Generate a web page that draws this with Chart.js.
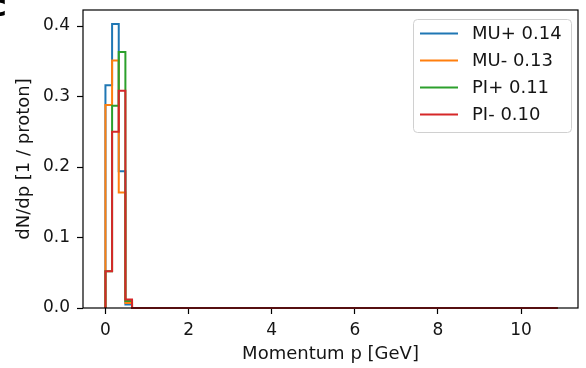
<!DOCTYPE html>
<html>
<head>
<meta charset="utf-8">
<script src="https://cdn.jsdelivr.net/npm/chart.js@4/dist/chart.umd.min.js"></script>
<style>
  html, body { margin: 0; padding: 0; background: #fff; }
  #wrap { width: 586px; height: 368px; }
</style>
</head>
<body>
<div id="wrap"><canvas id="c"></canvas></div>
<script>
// bin edges of the step histogram (GeV); the last segment is empty up to the end
const binEdges = [0, 0.16, 0.32, 0.48, 0.64, 10.88];

// dN/dp per bin
const muPlus  = [0.316, 0.403, 0.194, 0.005, 0];
const muMinus = [0.288, 0.351, 0.164, 0.007, 0];
const piPlus  = [0.052, 0.287, 0.363, 0.010, 0];
const piMinus = [0.052, 0.250, 0.308, 0.012, 0];

const seriesLabels = ['MU+ 0.14', 'MU- 0.13', 'PI+ 0.11', 'PI- 0.10'];
const seriesColors = ['#1f77b4', '#ff7f0e', '#2ca02c', '#d62728'];

const xTicks = [0, 2, 4, 6, 8, 10];
const yTicks = [0, 0.1, 0.2, 0.3, 0.4];

const FONT = "'DejaVu Sans', sans-serif";
const TEXT = '#151515';

function stepPoints(vals) {
    let pts = [{x: binEdges[0], y: 0}];
    vals.forEach((v, i) => pts.push({x: binEdges[i], y: v}));
    pts.push({x: binEdges[binEdges.length - 1], y: 0});
    return pts;
}

const allSeries = [muPlus, muMinus, piPlus, piMinus];

// full box around the axes, legend inside, cut panel letter
const frame = {
    id: 'frame',
    afterDraw(chart) {
        const ctx = chart.ctx, a = chart.chartArea;
        ctx.save();
        ctx.strokeStyle = '#000';
        ctx.lineWidth = 1.2;
        ctx.strokeRect(a.left, a.top, a.right - a.left, a.bottom - a.top);

        // legend
        const bx = 413, by = 19, bw = 158, bh = 113, r = 4;
        ctx.fillStyle = 'rgba(255,255,255,0.8)';
        ctx.strokeStyle = '#d0d0d0';
        ctx.lineWidth = 1;
        ctx.beginPath();
        ctx.roundRect(bx + 0.5, by + 0.5, bw, bh, r);
        ctx.fill();
        ctx.stroke();
        ctx.font = '18px ' + FONT;
        ctx.textBaseline = 'middle';
        seriesLabels.forEach((lab, i) => {
            const y = 33.5 + i * 27;
            ctx.strokeStyle = seriesColors[i];
            ctx.lineWidth = 2;
            ctx.beginPath();
            ctx.moveTo(420, y);
            ctx.lineTo(458, y);
            ctx.stroke();
            ctx.fillStyle = TEXT;
            ctx.fillText(lab, 472, y + 1);
        });

        // panel letter, cut by the page edge
        ctx.fillStyle = '#000';
        ctx.font = 'bold 30px ' + FONT;
        ctx.textBaseline = 'alphabetic';
        ctx.fillText('c', -11, 16);
        ctx.restore();
    }
};

new Chart(document.getElementById('c'), {
    type: 'line',
    data: {
        datasets: allSeries.map((vals, i) => ({
            label: seriesLabels[i],
            data: stepPoints(vals),
            borderColor: seriesColors[i],
            backgroundColor: seriesColors[i],
            borderWidth: 2,
            stepped: true,
            pointRadius: 0,
            fill: false,
            clip: 3,
            order: allSeries.length - i
        }))
    },
    options: {
        responsive: true,
        maintainAspectRatio: false,
        animation: false,
        layout: { padding: { left: 0, top: 10, right: 8, bottom: 0 } },
        plugins: {
            legend: { display: false },
            tooltip: { enabled: false }
        },
        scales: {
            x: {
                type: 'linear',
                min: -0.54,
                max: 11.37,
                afterBuildTicks: axis => { axis.ticks = xTicks.map(v => ({value: v})); },
                afterFit: s => { s.height = 60; s.paddingLeft = 0; s.paddingRight = 0; },
                border: { display: false },
                grid: { display: true, drawOnChartArea: false, drawTicks: true, tickLength: 6, tickWidth: 1.2, tickColor: '#000' },
                ticks: {
                    color: TEXT,
                    font: { family: FONT, size: 17 },
                    padding: 6,
                    maxRotation: 0,
                    callback: v => String(v)
                },
                title: {
                    display: true,
                    text: 'Momentum p [GeV]',
                    color: TEXT,
                    font: { family: FONT, size: 18 },
                    padding: { top: 0, bottom: 3 }
                }
            },
            y: {
                type: 'linear',
                min: 0,
                max: 0.4227,
                afterBuildTicks: axis => { axis.ticks = yTicks.map(v => ({value: v})); },
                afterFit: s => { s.width = 83; s.paddingTop = 0; s.paddingBottom = 0; },
                border: { display: false },
                grid: { display: true, drawOnChartArea: false, drawTicks: true, tickLength: 6, tickWidth: 1.2, tickColor: '#000' },
                ticks: {
                    color: TEXT,
                    font: { family: FONT, size: 17 },
                    padding: 7,
                    callback: v => v.toFixed(1)
                },
                title: {
                    display: true,
                    text: 'dN/dp [1 / proton]',
                    color: TEXT,
                    font: { family: FONT, size: 18 },
                    padding: { top: 14, bottom: 0 }
                }
            }
        }
    },
    plugins: [frame]
});
</script>
</body>
</html>
